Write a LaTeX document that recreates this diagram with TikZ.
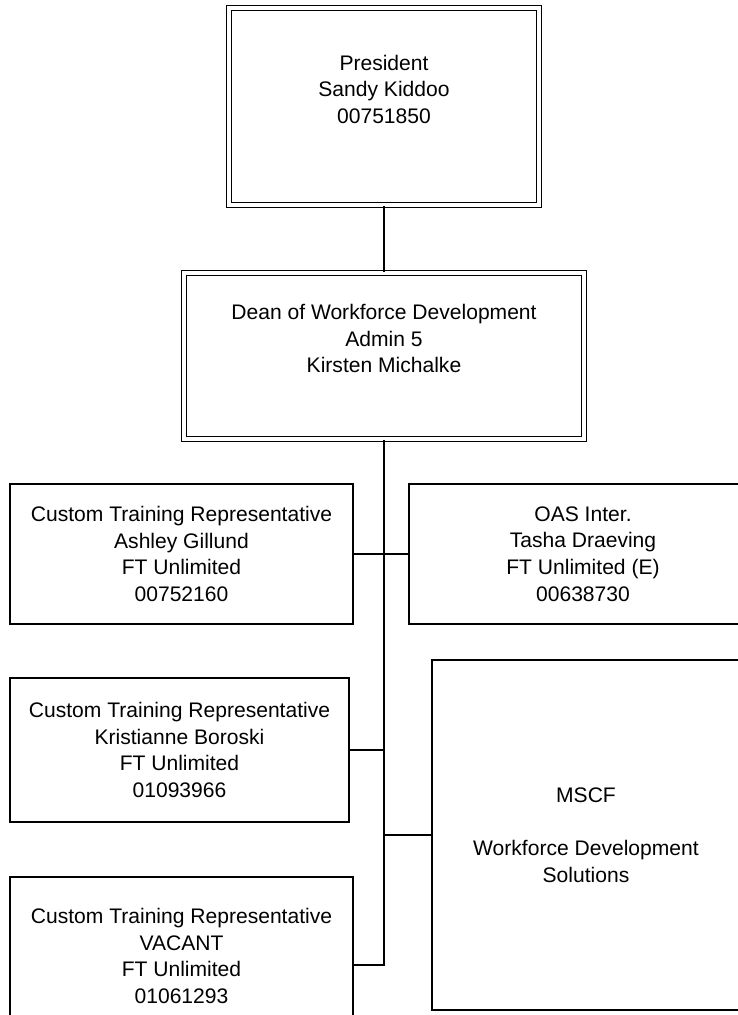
\documentclass[tikz,border=0pt]{standalone}
\usepackage{fontspec}
\setmainfont{Liberation Sans}
\usepackage{tikz}

\tikzset{
  unitbox/.style={draw, line width=1.25pt, rectangle, inner sep=0pt, align=center,
    font=\fontsize{15.8}{19.9}\selectfont},
  headbox/.style={unitbox, double, double distance=2.4pt, line width=1.3pt},
  link/.style={line width=1.1pt},
  trunk/.style={line width=1.5pt},
}

\begin{document}
\begin{tikzpicture}[x=0.75pt,y=0.75pt,yscale=-1,xscale=1]
%set diagram frame: 738 x 1015, boxes at the right and bottom are cut off
\clip (0,0) rectangle (738,1015);

% Head boxes
\node[headbox, minimum width=232.5pt, minimum height=147.75pt] (pres) at (384,106.5)
  {President\\Sandy Kiddoo\\00751850\\\strut};
\node[headbox, minimum width=300pt, minimum height=124.5pt] (dean) at (384,356)
  {Dean of Workforce Development\\Admin 5\\Kirsten Michalke\\\strut};

% Staff boxes, left column
\node[unitbox, minimum width=257.25pt, minimum height=105pt] (ctrA) at (181.5,554)
  {Custom Training Representative\\Ashley Gillund\\FT Unlimited\\00752160};
\node[unitbox, minimum width=254.25pt, minimum height=108pt] (ctrB) at (179.5,750)
  {Custom Training Representative\\Kristianne Boroski\\FT Unlimited\\01093966};
\node[unitbox, minimum width=257.25pt, minimum height=118.5pt] (ctrC) at (181.5,956)
  {Custom Training Representative\\VACANT\\FT Unlimited\\01061293};

% Staff boxes, right column
\node[unitbox, minimum width=261pt, minimum height=105pt] (oas) at (583,554)
  {OAS Inter.\\Tasha Draeving\\FT Unlimited (E)\\00638730};
\node[unitbox, minimum width=231pt, minimum height=262.5pt] (mscf) at (586,835)
  {MSCF\\[19.9pt]Workforce Development\\Solutions};

% Connectors
\draw[link] (pres) -- (dean);
\draw[trunk] (dean.south) |- ([yshift=6.75pt]ctrC.east);
\draw[link] (ctrA) -- (oas);
\draw[link] (ctrB.east) -- (ctrB.east -| dean.south);
\draw[link] (mscf.west) -- (mscf.west -| dean.south);

\end{tikzpicture}
\end{document}
